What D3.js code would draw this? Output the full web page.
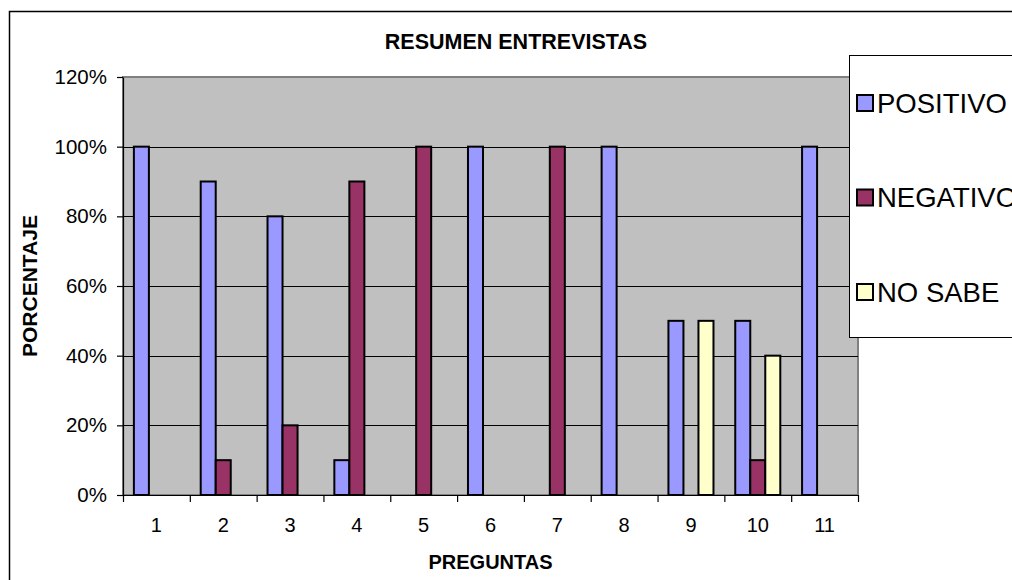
<!DOCTYPE html>
<html>
<head>
<meta charset="utf-8">
<script src="https://cdn.jsdelivr.net/npm/d3@7"></script>
<style>
  body { margin: 0; background: #fff; overflow: hidden; }
  svg { display: block; font-family: Arial, 'Liberation Sans', sans-serif; }
</style>
</head>
<body>
<div id="chart"></div>
<script>
'use strict';

// chart values
const preguntas = ['1', '2', '3', '4', '5', '6', '7', '8', '9', '10', '11'];
const seriesNames = ['POSITIVO', 'NEGATIVO', 'NO SABE'];
const positivo = [100, 90, 80, 10, 0, 100, 0, 100, 50, 50, 100];
const negativo = [0, 10, 20, 90, 100, 0, 100, 0, 0, 10, 0];
const noSabe = [0, 0, 0, 0, 0, 0, 0, 0, 50, 40, 0];
const yTicks = [0, 20, 40, 60, 80, 100, 120];

const colors = ['#9999FF', '#993366', '#FFFFCC'];
const seriesValues = [positivo, negativo, noSabe];

const width = 1012, height = 580;
const plot = {left: 123, top: 77, right: 858, bottom: 495};

const svg = d3.select('#chart').append('svg')
    .attr('width', width)
    .attr('height', height);

// outer chart border
svg.append('rect')
    .attr('x', 9.5).attr('y', 11.5)
    .attr('width', 1030).attr('height', 600)
    .attr('fill', '#fff')
    .attr('stroke', '#000')
    .attr('stroke-width', 1.5);

// scales
const x0 = d3.scaleBand()
    .domain(preguntas)
    .range([plot.left, plot.right])
    .padding(0);

const x1 = d3.scaleBand()
    .domain(seriesNames)
    .range([0, x0.bandwidth()])
    .paddingInner(0)
    .paddingOuter(0.725);

const y = d3.scaleLinear()
    .domain([0, 120])
    .range([plot.bottom, plot.top]);

// plot background
svg.append('rect')
    .attr('x', plot.left).attr('y', plot.top)
    .attr('width', plot.right - plot.left)
    .attr('height', plot.bottom - plot.top)
    .attr('fill', '#C0C0C0')
    .attr('stroke', '#808080')
    .attr('stroke-width', 2);

// gridlines
svg.append('g')
    .selectAll('line')
    .data(yTicks.filter(d => d > 0 && d < 120))
    .enter().append('line')
    .attr('x1', plot.left).attr('x2', plot.right)
    .attr('y1', d => Math.round(y(d)) + 0.5)
    .attr('y2', d => Math.round(y(d)) + 0.5)
    .attr('stroke', '#000')
    .attr('stroke-width', 1);

// bars
const rows = preguntas.map((p, i) => ({
  pregunta: p,
  values: seriesNames.map((s, j) => ({serie: s, idx: j, value: seriesValues[j][i]}))
}));

svg.append('g')
    .selectAll('g')
    .data(rows)
    .enter().append('g')
    .attr('transform', d => 'translate(' + x0(d.pregunta) + ',0)')
    .selectAll('rect')
    .data(d => d.values.filter(v => v.value > 0))
    .enter().append('rect')
    .attr('x', d => x1(d.serie))
    .attr('y', d => y(d.value))
    .attr('width', x1.bandwidth())
    .attr('height', d => y(0) - y(d.value))
    .attr('fill', d => colors[d.idx])
    .attr('stroke', '#000')
    .attr('stroke-width', 2);

// y axis
const yAxis = svg.append('g')
    .attr('transform', 'translate(' + plot.left + ',0)')
    .call(d3.axisLeft(y)
        .tickValues(yTicks)
        .tickFormat(d => d + '%')
        .tickSize(6)
        .tickSizeOuter(0)
        .tickPadding(10));
yAxis.selectAll('text').attr('font-size', 20.5).attr('fill', '#000')
    .attr('font-family', "Arial, 'Liberation Sans', sans-serif");
yAxis.selectAll('line, path').attr('stroke', '#000').attr('stroke-width', 1.2);

// x axis: tick marks at category boundaries
const xb = d3.scaleLinear()
    .domain([0, preguntas.length])
    .range([plot.left, plot.right]);

const xTicks = svg.append('g')
    .attr('transform', 'translate(0,' + plot.bottom + ')')
    .call(d3.axisBottom(xb)
        .tickValues(d3.range(preguntas.length + 1))
        .tickFormat('')
        .tickSize(7)
        .tickSizeOuter(0));
xTicks.selectAll('line, path').attr('stroke', '#000').attr('stroke-width', 1.2);

// x axis: category labels
const xLabels = svg.append('g')
    .attr('transform', 'translate(0,' + plot.bottom + ')')
    .call(d3.axisBottom(x0).tickSize(0).tickPadding(23));
xLabels.select('.domain').remove();
xLabels.selectAll('text').attr('font-size', 20).attr('fill', '#000')
    .attr('font-family', "Arial, 'Liberation Sans', sans-serif");

// title
svg.append('text')
    .attr('x', 516).attr('y', 49)
    .attr('text-anchor', 'middle')
    .attr('font-weight', 'bold')
    .attr('font-size', 21.5)
    .text('RESUMEN ENTREVISTAS');

// axis titles
svg.append('text')
    .attr('x', (plot.left + plot.right) / 2).attr('y', 569)
    .attr('text-anchor', 'middle')
    .attr('font-weight', 'bold')
    .attr('font-size', 20)
    .text('PREGUNTAS');

svg.append('text')
    .attr('transform', 'translate(37,' + (plot.top + plot.bottom) / 2 + ') rotate(-90)')
    .attr('text-anchor', 'middle')
    .attr('font-weight', 'bold')
    .attr('font-size', 21)
    .text('PORCENTAJE');

// legend
const legend = svg.append('g');
legend.append('rect')
    .attr('x', 849.5).attr('y', 55.5)
    .attr('width', 200).attr('height', 282)
    .attr('fill', '#fff')
    .attr('stroke', '#000')
    .attr('stroke-width', 1);

const ly = d3.scalePoint()
    .domain(seriesNames)
    .range([103, 292]);

const item = legend.selectAll('g.item')
    .data(seriesNames)
    .enter().append('g')
    .attr('class', 'item')
    .attr('transform', d => 'translate(857,' + ly(d) + ')');

item.append('rect')
    .attr('x', 0).attr('y', -8)
    .attr('width', 16).attr('height', 16)
    .attr('fill', (d, i) => colors[i])
    .attr('stroke', '#000')
    .attr('stroke-width', 2);

item.append('text')
    .attr('x', 20).attr('y', 0)
    .attr('dy', '0.36em')
    .attr('font-size', 27.5)
    .text(d => d);
</script>
</body>
</html>
